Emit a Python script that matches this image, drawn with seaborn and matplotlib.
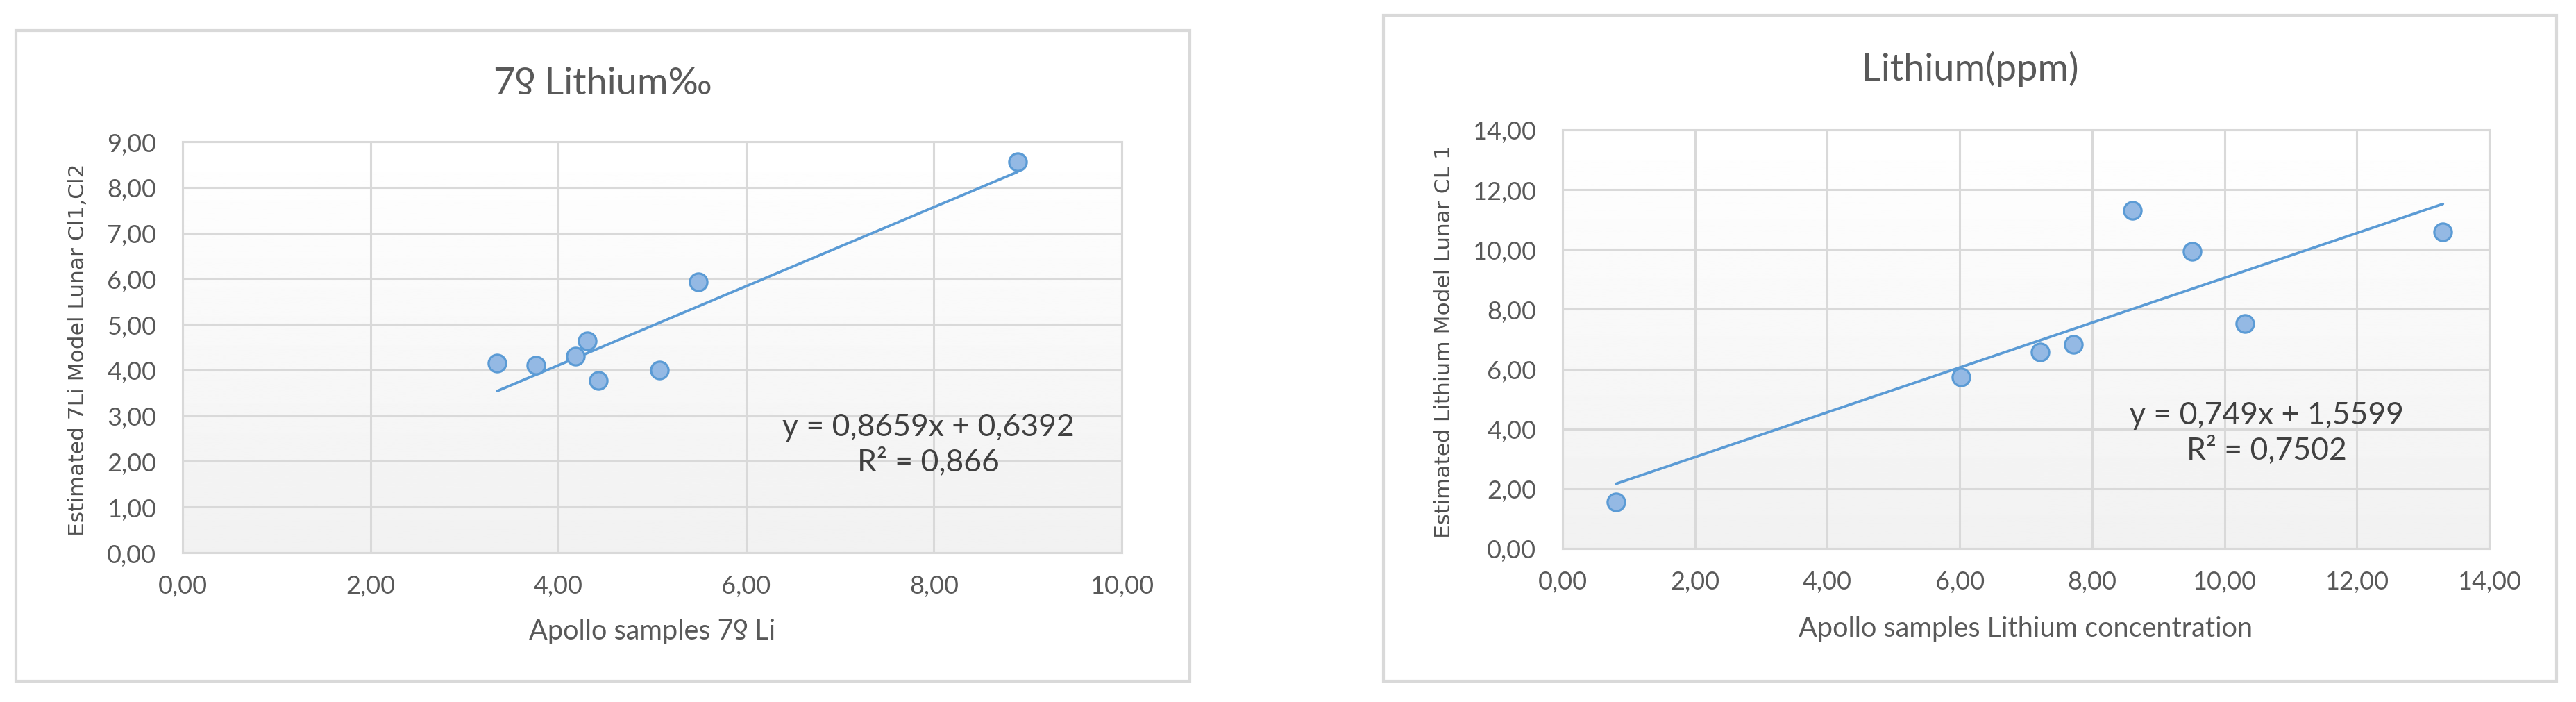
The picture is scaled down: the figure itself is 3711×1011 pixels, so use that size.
import numpy as np
import pandas as pd
import matplotlib
matplotlib.use("Agg")
import matplotlib.pyplot as plt
import seaborn as sns
from matplotlib.patches import Rectangle
from matplotlib.ticker import FuncFormatter, MultipleLocator

# Left chart: delta 7Li
li7_apollo = [3.35, 3.76, 4.18, 4.31, 4.43, 5.08, 5.49, 8.89]
li7_model = [4.15, 4.11, 4.30, 4.63, 3.77, 4.00, 5.93, 8.56]
li7_slope, li7_intercept, li7_r2 = 0.8659, 0.6392, 0.866

# Right chart: Lithium ppm
li_apollo = [0.81, 6.02, 7.22, 7.72, 8.61, 9.51, 10.31, 13.30]
li_model = [1.55, 5.74, 6.56, 6.82, 11.30, 9.93, 7.53, 10.58]
li_slope, li_intercept, li_r2 = 0.749, 1.5599, 0.7502

sns.set_style("white")
plt.rcParams['font.family'] = ['Lato', 'DejaVu Sans']

TXT = '#595959'
GRID = '#D9D9D9'
BLUE = '#5B9BD5'
FILL = '#94B9E4'

fig = plt.figure(figsize=(37.12, 10.12), dpi=100)
fig.patch.set_facecolor('white')

# outer chart frames
for (x0, y0, w, h) in [(0.0062, 0.0296, 0.4555, 0.9259), (0.5369, 0.0296, 0.4553, 0.9476)]:
    fig.add_artist(Rectangle((x0, y0), w, h, transform=fig.transFigure,
                             facecolor='white', edgecolor=GRID, lw=3, zorder=-5))

ax1 = fig.add_axes([0.07085, 0.21245, 0.36449, 0.58498])
ax2 = fig.add_axes([0.60641, 0.21838, 0.35965, 0.59585])

comma = FuncFormatter(lambda v, p: f"{v:.2f}".replace('.', ','))
grad = np.linspace(1.0, 0.945, 256).reshape(-1, 1)


def fmt(n):
    return f"{n}".replace('.', ',')


def draw(ax, x, y, slope, intercept, r2, xmax, ymax, ystep,
         title, xlabel, ylabel, eq_pos, title_pos, ylab_x):
    ax.set_facecolor('none')
    ax.imshow(grad, cmap='gray', vmin=0, vmax=1, extent=(0, 1, 0, 1),
              transform=ax.transAxes, aspect='auto', zorder=-2)
    df = pd.DataFrame({'x': x, 'y': y})
    xs = np.array([df.x.min(), df.x.max()])
    fit = pd.DataFrame({'x': xs, 'y': slope * xs + intercept})
    sns.lineplot(data=fit, x='x', y='y', ax=ax, color=BLUE, lw=2.7, zorder=3)
    sns.scatterplot(data=df, x='x', y='y', ax=ax, s=330, color=FILL,
                    edgecolor=BLUE, linewidth=2.3, zorder=4)
    ax.set_xlim(0, xmax)
    ax.set_ylim(0, ymax)
    ax.xaxis.set_major_locator(MultipleLocator(2))
    ax.yaxis.set_major_locator(MultipleLocator(ystep))
    ax.xaxis.set_major_formatter(comma)
    ax.yaxis.set_major_formatter(comma)
    ax.grid(True, color=GRID, lw=2.2)
    ax.set_axisbelow(True)
    for sp in ax.spines.values():
        sp.set_color(GRID)
        sp.set_linewidth(2.2)
    ax.tick_params(axis='both', length=0, labelsize=26, colors=TXT)
    ax.tick_params(axis='x', pad=22)
    ax.tick_params(axis='y', pad=27)
    ax.set_xlabel(xlabel, fontsize=28.5, color=TXT, va='center')
    ax.xaxis.set_label_coords(0.5, -0.19)
    ax.set_ylabel(ylabel, fontsize=22.5, color='#505050', family='DejaVu Sans', va='center')
    ax.yaxis.set_label_coords(ylab_x, 0.495)
    eq = f"y = {fmt(slope)}x + {fmt(intercept)}\nR² = {fmt(r2)}"
    ax.text(eq_pos[0], eq_pos[1], eq, ha='center', va='center', fontsize=32,
            color='#404040', linespacing=1.25, zorder=5)
    fig.text(title_pos[0], title_pos[1], title, ha='center', va='baseline',
             fontsize=39, color=TXT)


draw(ax1, li7_apollo, li7_model, li7_slope, li7_intercept, li7_r2, 10, 9, 1,
     "7ƍ Lithium‰", "Apollo samples 7ƍ Li", "Estimated 7Li Model Lunar Cl1,Cl2",
     (7.94, 2.37), (0.2338, 0.8656), -0.1116)
draw(ax2, li_apollo, li_model, li_slope, li_intercept, li_r2, 14, 14, 2,
     "Lithium(ppm)", "Apollo samples Lithium concentration", "Estimated Lithium Model Lunar CL 1",
     (10.64, 3.875), (0.7645, 0.8854), -0.128)

fig.savefig("out.png", dpi=100, facecolor='white')
